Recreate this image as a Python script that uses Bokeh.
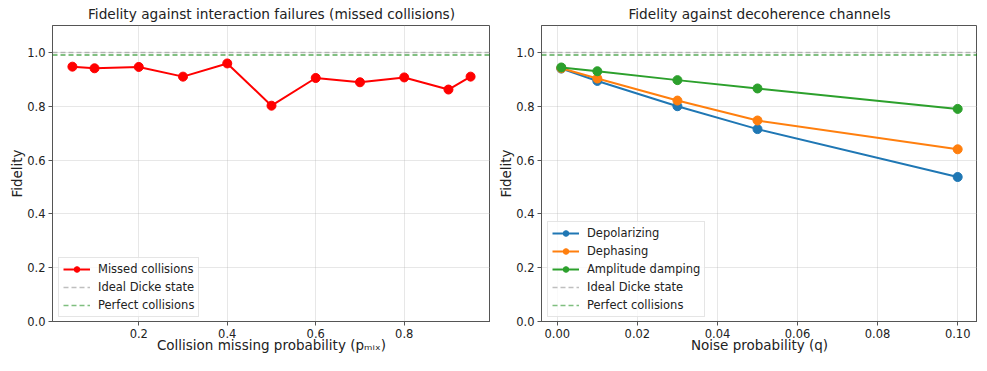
from bokeh.plotting import figure
from bokeh.layouts import row
from bokeh.models import Range1d, FixedTicker, PrintfTickFormatter, Span, Legend, LegendItem, ColumnDataSource
from bokeh.embed import file_html
from bokeh.resources import INLINE

# ---- data ----
p_mix = [0.05, 0.1, 0.2, 0.3, 0.4, 0.5, 0.6, 0.7, 0.8, 0.9, 0.95]
fid_missed = [0.947, 0.941, 0.946, 0.910, 0.959, 0.802, 0.905, 0.889, 0.907, 0.862, 0.910]

q_vals = [0.001, 0.01, 0.03, 0.05, 0.1]
fid_depol = [0.940, 0.894, 0.800, 0.715, 0.537]
fid_dephase = [0.941, 0.903, 0.821, 0.747, 0.640]
fid_ampdamp = [0.944, 0.930, 0.897, 0.866, 0.790]

ideal_level = 1.0
perfect_level = 0.99

y_ticks = [0.0, 0.2, 0.4, 0.6, 0.8, 1.0]
x_ticks_left = [0.2, 0.4, 0.6, 0.8]
x_ticks_right = [0.0, 0.02, 0.04, 0.06, 0.08, 0.10]

FONT = "DejaVu Sans"
SPINE = "#555555"
DASH = "5 3"
NAN = float("nan")


def style(p, xlabel, xticks, xfmt, ystand):
    p.title.text_font = FONT
    p.title.text_font_size = "13.7px"
    p.title.text_font_style = "normal"
    p.title.text_color = "#222222"
    p.title.align = "center"
    p.title.standoff = 7
    p.outline_line_color = SPINE
    p.outline_line_width = 1
    for ax in (p.xaxis[0], p.yaxis[0]):
        ax.axis_line_color = SPINE
        ax.major_tick_line_color = SPINE
        ax.major_tick_out = 4
        ax.major_tick_in = 0
        ax.minor_tick_line_color = None
        ax.major_label_standoff = 3
        ax.major_label_text_font = FONT
        ax.major_label_text_font_size = "11.5px"
        ax.major_label_text_color = "#222222"
        ax.axis_label_text_font = FONT
        ax.axis_label_text_font_size = "13.5px"
        ax.axis_label_text_font_style = "normal"
        ax.axis_label_text_color = "#222222"
    p.xaxis.axis_label_standoff = -4
    p.yaxis.axis_label_standoff = ystand
    p.xaxis.axis_label = xlabel
    p.yaxis.axis_label = "Fidelity"
    p.xaxis.ticker = FixedTicker(ticks=xticks)
    p.xaxis.formatter = PrintfTickFormatter(format=xfmt)
    p.yaxis.ticker = FixedTicker(ticks=y_ticks)
    p.yaxis.formatter = PrintfTickFormatter(format="%.1f")
    p.xgrid.grid_line_color = "#b0b0b0"
    p.ygrid.grid_line_color = "#b0b0b0"
    p.xgrid.grid_line_alpha = 0.3
    p.ygrid.grid_line_alpha = 0.3
    p.background_fill_color = "white"
    p.border_fill_color = "white"


def add_ref_lines(p):
    s1 = Span(location=ideal_level, dimension="width", line_color="gray", line_alpha=0.5,
              line_width=1.5, line_dash=DASH)
    s2 = Span(location=perfect_level, dimension="width", line_color="green", line_alpha=0.65,
              line_width=1.5, line_dash=DASH)
    p.add_layout(s1)
    p.add_layout(s2)
    dummy = ColumnDataSource(data=dict(x=[NAN], y=[NAN]))
    r1 = p.line("x", "y", source=dummy, line_color="gray", line_alpha=0.5, line_width=1.5, line_dash=DASH)
    r2 = p.line("x", "y", source=dummy, line_color="green", line_alpha=0.5, line_width=1.5, line_dash=DASH)
    return [LegendItem(label="Ideal Dicke state", renderers=[r1]),
            LegendItem(label="Perfect collisions", renderers=[r2])]


def make_legend(p, items):
    leg = Legend(items=items, location=(6, 4))
    leg.label_text_font = FONT
    leg.label_text_font_size = "11.5px"
    leg.label_text_color = "#222222"
    leg.label_height = 14
    leg.glyph_height = 14
    leg.glyph_width = 27
    leg.label_standoff = 8
    leg.spacing = 4
    leg.padding = 4
    leg.margin = 0
    leg.border_line_color = "#cccccc"
    leg.border_line_width = 1
    leg.background_fill_color = "white"
    leg.background_fill_alpha = 0.8
    p.add_layout(leg)


# ---- left figure ----
p1 = figure(width=484, height=355, output_backend="svg", toolbar_location=None,
            title="Fidelity against interaction failures (missed collisions)",
            x_range=Range1d(0.005, 0.995), y_range=Range1d(0, 1.1),
            min_border_left=0, min_border_right=0, min_border_top=5, min_border_bottom=5)
p1.margin = (0, 0, 0, 6)
style(p1, "Collision missing probability (pₘᵢₓ)", x_ticks_left, "%.1f", -1)
ref_items1 = add_ref_lines(p1)
rl = p1.line(p_mix, fid_missed, line_color="red", line_width=2)
rs = p1.scatter(p_mix, fid_missed, color="red", size=9)
make_legend(p1, [LegendItem(label="Missed collisions", renderers=[rl, rs])] + ref_items1)

# ---- right figure ----
p2 = figure(width=482, height=355, output_backend="svg", toolbar_location=None,
            title="Fidelity against decoherence channels",
            x_range=Range1d(-0.00395, 0.10495), y_range=Range1d(0, 1.1),
            min_border_left=0, min_border_right=0, min_border_top=5, min_border_bottom=5)
p2.margin = (0, 0, 0, 5)
style(p2, "Noise probability (q)", x_ticks_right, "%.2f", -1)
ref_items2 = add_ref_lines(p2)
items = []
for name, ys, col in [("Depolarizing", fid_depol, "#1f77b4"),
                      ("Dephasing", fid_dephase, "#ff7f0e"),
                      ("Amplitude damping", fid_ampdamp, "#2ca02c")]:
    l = p2.line(q_vals, ys, line_color=col, line_width=2)
    s = p2.scatter(q_vals, ys, color=col, size=9)
    items.append(LegendItem(label=name, renderers=[l, s]))
make_legend(p2, items + ref_items2)

layout = row(p1, p2)
open("out.html", "w").write(file_html(layout, INLINE))
